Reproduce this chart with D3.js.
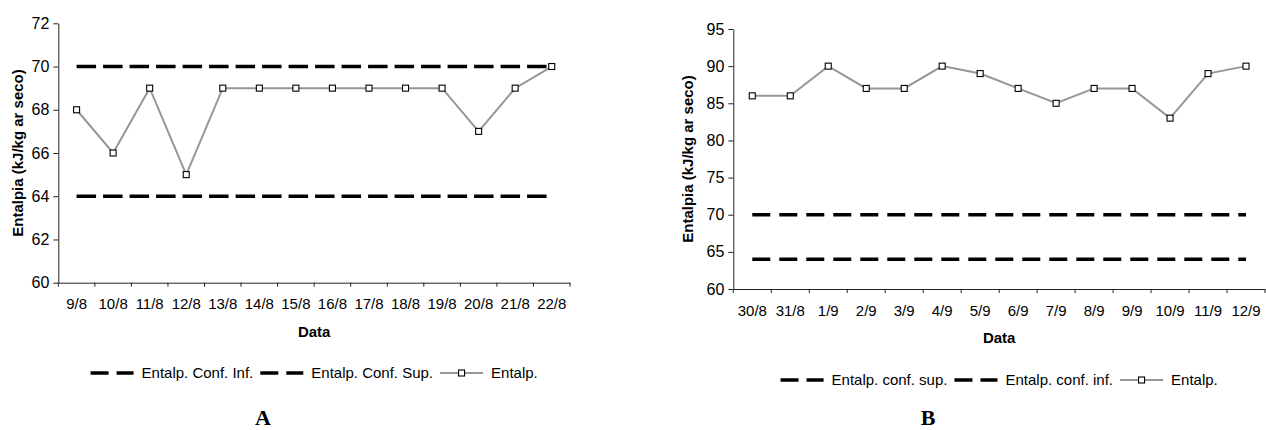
<!DOCTYPE html>
<html>
<head>
<meta charset="utf-8">
<script src="https://cdn.jsdelivr.net/npm/d3@7"></script>
<style>
  body { margin: 0; background: #fff; }
  svg { display: block; }
</style>
</head>
<body>
<svg id="chart" width="1266" height="430"></svg>
<script>
// chart A data
const datesA = ["9/8", "10/8", "11/8", "12/8", "13/8", "14/8", "15/8", "16/8", "17/8", "18/8", "19/8", "20/8", "21/8", "22/8"];
const entalpA = [68, 66, 69, 65, 69, 69, 69, 69, 69, 69, 69, 67, 69, 70];
const confInfA = [64, 64, 64, 64, 64, 64, 64, 64, 64, 64, 64, 64, 64, 64];
const confSupA = [70, 70, 70, 70, 70, 70, 70, 70, 70, 70, 70, 70, 70, 70];
const yTicksA = [60, 62, 64, 66, 68, 70, 72];
const legendA = ["Entalp. Conf. Inf.", "Entalp. Conf. Sup.", "Entalp."];

// chart B data
const datesB = ["30/8", "31/8", "1/9", "2/9", "3/9", "4/9", "5/9", "6/9", "7/9", "8/9", "9/9", "10/9", "11/9", "12/9"];
const entalpB = [86, 86, 90, 87, 87, 90, 89, 87, 85, 87, 87, 83, 89, 90];
const confSupB = [70, 70, 70, 70, 70, 70, 70, 70, 70, 70, 70, 70, 70, 70];
const confInfB = [64, 64, 64, 64, 64, 64, 64, 64, 64, 64, 64, 64, 64, 64];
const yTicksB = [60, 65, 70, 75, 80, 85, 90, 95];
const legendB = ["Entalp. conf. sup.", "Entalp. conf. inf.", "Entalp."];

const font = "'Liberation Sans', Arial, sans-serif";
const svg = d3.select("#chart");

function drawChart({ svg, dates, dashed, values, yTicks, legend, box, dash, titleX, legendY, letter }) {
  const g = svg.append("g").style("font-family", font);

  // scales
  const scaleX = d3.scaleBand()
      .domain(dates)
      .range([box.left, box.right]);
  const scaleY = d3.scaleLinear()
      .domain([yTicks[0], yTicks[yTicks.length - 1]])
      .range([box.bottom, box.top]);
  const cx = d => scaleX(d) + scaleX.bandwidth() / 2;

  // x axis: labels from the band scale, ticks go between categories
  const xAxis = g.append("g")
      .attr("transform", `translate(0, ${box.bottom})`)
      .call(d3.axisBottom(scaleX).tickSize(0).tickPadding(16));
  xAxis.select(".domain").attr("stroke", "#222");
  xAxis.selectAll("text").style("font-size", "15px").attr("fill", "#000");

  const bounds = dates.map(d => scaleX(d)).concat([box.right]);
  g.append("g")
    .selectAll("line")
    .data(bounds)
    .join("line")
      .attr("x1", d => d).attr("x2", d => d)
      .attr("y1", box.bottom).attr("y2", box.bottom + 4)
      .attr("stroke", "#222");

  // y axis
  const yAxis = g.append("g")
      .attr("transform", `translate(${box.left}, 0)`)
      .call(d3.axisLeft(scaleY).tickValues(yTicks).tickSizeInner(5).tickSizeOuter(0).tickPadding(4));
  yAxis.select(".domain").attr("stroke", "#222");
  yAxis.selectAll(".tick line").attr("stroke", "#222");
  yAxis.selectAll("text").style("font-size", "16px").attr("fill", "#000");

  // axis titles
  g.append("text")
      .text("Entalpia (kJ/kg ar seco)")
      .attr("transform", `translate(${titleX}, ${(box.top + box.bottom) / 2}) rotate(-90)`)
      .attr("dy", "0.35em")
      .attr("text-anchor", "middle")
      .style("font-size", "15px")
      .style("font-weight", "bold");

  g.append("text")
      .text("Data")
      .attr("x", (box.left + box.right) / 2)
      .attr("y", box.bottom + 54)
      .attr("text-anchor", "middle")
      .style("font-size", "15px")
      .style("font-weight", "bold");

  // dashed confidence lines
  const line = d3.line()
      .x((d, i) => cx(dates[i]))
      .y(d => scaleY(d));

  for (const s of dashed) {
    g.append("path")
        .attr("fill", "none")
        .attr("stroke", "#000")
        .attr("stroke-width", 3.5)
        .attr("stroke-dasharray", dash)
        .attr("d", line(s));
  }

  // enthalpy series
  g.append("path")
      .attr("fill", "none")
      .attr("stroke", "#969696")
      .attr("stroke-width", 2)
      .attr("d", line(values));

  g.append("g")
    .selectAll("rect")
    .data(values)
    .join("rect")
      .attr("x", (d, i) => cx(dates[i]) - 3)
      .attr("y", d => scaleY(d) - 3)
      .attr("width", 6)
      .attr("height", 6)
      .attr("fill", "#fff")
      .attr("stroke", "#000")
      .attr("stroke-width", 1.1);

  // legend, centered under the plot
  const leg = g.append("g");
  let pos = 0;
  legend.forEach((label, i) => {
    const item = leg.append("g").attr("transform", `translate(${pos}, 0)`);
    if (i < 2) {
      item.append("line")
          .attr("x1", 0).attr("x2", 43)
          .attr("y1", -5).attr("y2", -5)
          .attr("stroke", "#000")
          .attr("stroke-width", 3.5)
          .attr("stroke-dasharray", "18,8");
    } else {
      item.append("line")
          .attr("x1", 0).attr("x2", 43)
          .attr("y1", -5).attr("y2", -5)
          .attr("stroke", "#969696")
          .attr("stroke-width", 2);
      item.append("rect")
          .attr("x", 18.5).attr("y", -8)
          .attr("width", 6).attr("height", 6)
          .attr("fill", "#fff")
          .attr("stroke", "#000")
          .attr("stroke-width", 1.1);
    }
    const t = item.append("text")
        .text(label)
        .attr("x", 51)
        .style("font-size", "15px");
    pos += 51 + t.node().getComputedTextLength() + 7;
  });
  const legWidth = pos - 7;
  leg.attr("transform", `translate(${(box.left + box.right) / 2 - legWidth / 2}, ${legendY})`);

  // panel letter
  svg.append("text")
      .text(letter.text)
      .attr("x", letter.x)
      .attr("y", 425)
      .attr("text-anchor", "middle")
      .style("font-family", "'Liberation Serif', 'Times New Roman', serif")
      .style("font-weight", "bold")
      .style("font-size", "22px");
}

drawChart({
  svg,
  dates: datesA,
  dashed: [confInfA, confSupA],
  values: entalpA,
  yTicks: yTicksA,
  legend: legendA,
  box: { left: 58.3, right: 570, top: 23.3, bottom: 282.7 },
  dash: "19.5,7",
  titleX: 18,
  legendY: 378,
  letter: { text: "A", x: 263 },
});

drawChart({
  svg,
  dates: datesB,
  dashed: [confSupB, confInfB],
  values: entalpB,
  yTicks: yTicksB,
  legend: legendB,
  box: { left: 733.3, right: 1265, top: 29, bottom: 289 },
  dash: "18,9",
  titleX: 688,
  legendY: 385,
  letter: { text: "B", x: 928 },
});
</script>
</body>
</html>
